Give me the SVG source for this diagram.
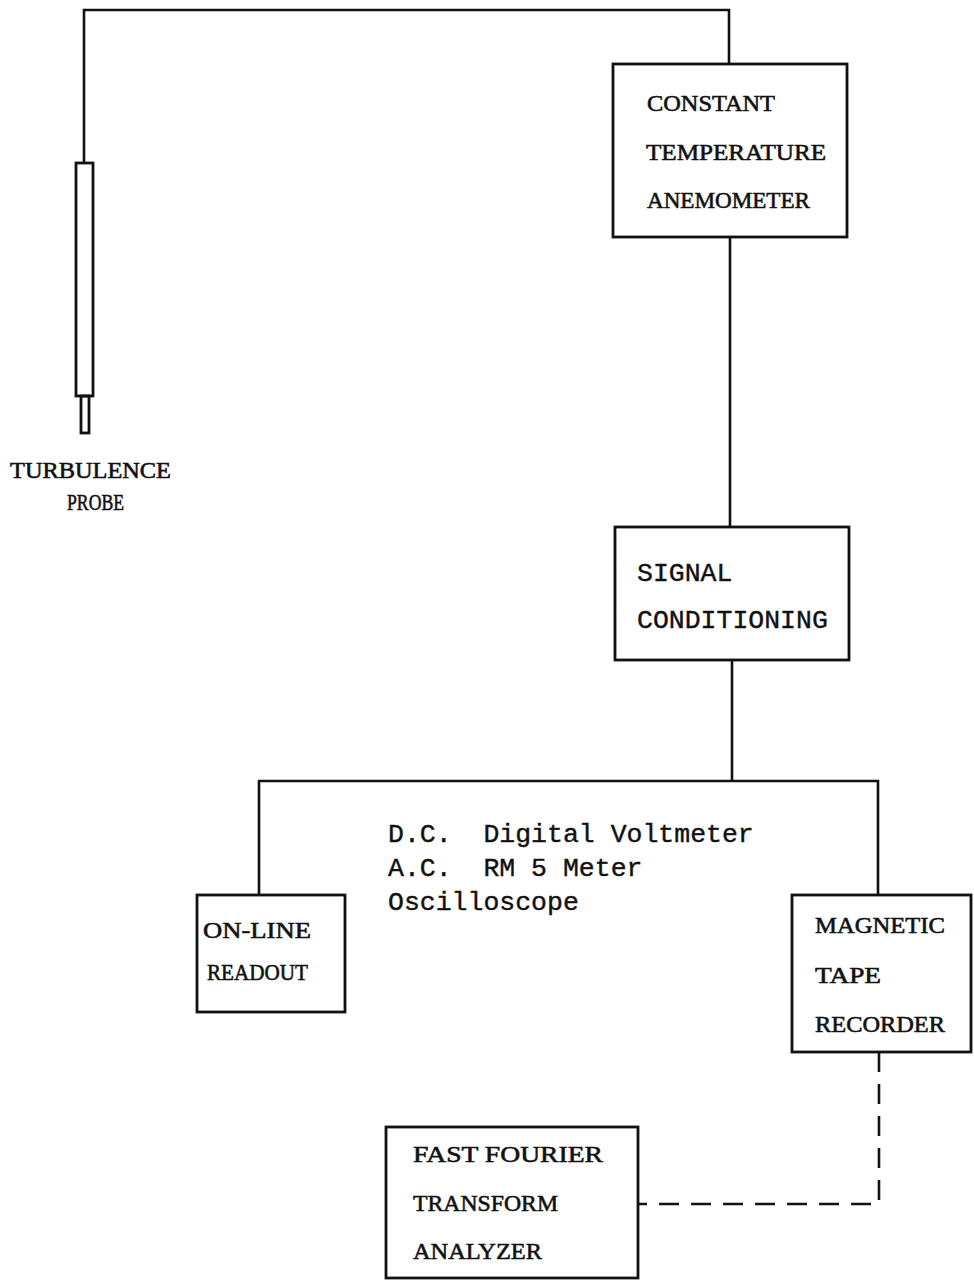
<svg xmlns="http://www.w3.org/2000/svg" width="974" height="1283" viewBox="0 0 974 1283">
<style>
.bg{fill:#fff}
.box{fill:none;stroke:#111;stroke-width:2.8}
.ln{fill:none;stroke:#111;stroke-width:2.6;stroke-linejoin:miter}
.dash{fill:none;stroke:#111;stroke-width:2.6;stroke-dasharray:20 12}
.sf{font-family:"Liberation Serif","DejaVu Serif",serif;font-size:24px;fill:#111;stroke:#111;stroke-width:0.6}
.mn{font-family:"Liberation Mono","DejaVu Sans Mono",monospace;font-size:26.5px;fill:#111;stroke:#111;stroke-width:0.4}
</style>
<rect class="bg" x="0" y="0" width="974" height="1283"/>
<g id="connectors">
<polyline class="ln" points="84,163 84,10 729,10 729,64"/>
<line class="ln" x1="730" y1="237" x2="730" y2="527"/>
<line class="ln" x1="732" y1="660" x2="732" y2="781"/>
<polyline class="ln" points="259,895 259,781 878,781 878,895"/>
<polyline class="dash" points="879,1052 879,1204 638,1204"/>
</g>
<g id="probe">
<rect class="box" x="76" y="163" width="17" height="233"/>
<rect class="box" x="81" y="396" width="8" height="37"/>
<text class="sf" x="10" y="478" textLength="161" lengthAdjust="spacingAndGlyphs">TURBULENCE</text>
<text class="sf" x="67" y="510" textLength="57" lengthAdjust="spacingAndGlyphs">PROBE</text>
</g>
<g id="cta">
<rect class="box" x="613" y="64" width="234" height="173"/>
<text class="sf" x="647" y="111" textLength="128" lengthAdjust="spacingAndGlyphs">CONSTANT</text>
<text class="sf" x="646" y="160" textLength="180" lengthAdjust="spacingAndGlyphs">TEMPERATURE</text>
<text class="sf" x="647" y="208" textLength="163" lengthAdjust="spacingAndGlyphs">ANEMOMETER</text>
</g>
<g id="signal">
<rect class="box" x="615" y="527" width="234" height="133"/>
<text class="mn" x="637" y="581">SIGNAL</text>
<text class="mn" x="637" y="628">CONDITIONING</text>
</g>
<g id="readout-note">
<text class="mn" x="388" y="842" xml:space="preserve">D.C.  Digital Voltmeter</text>
<text class="mn" x="388" y="876" xml:space="preserve">A.C.  RM 5 Meter</text>
<text class="mn" x="388" y="910">Oscilloscope</text>
</g>
<g id="online">
<rect class="box" x="197" y="895" width="148" height="117"/>
<text class="sf" x="203" y="938" textLength="108" lengthAdjust="spacingAndGlyphs">ON-LINE</text>
<text class="sf" x="207" y="980" textLength="101" lengthAdjust="spacingAndGlyphs">READOUT</text>
</g>
<g id="tape">
<rect class="box" x="792" y="895" width="179" height="157"/>
<text class="sf" x="815" y="933" textLength="130" lengthAdjust="spacingAndGlyphs">MAGNETIC</text>
<text class="sf" x="815" y="983" textLength="66" lengthAdjust="spacingAndGlyphs">TAPE</text>
<text class="sf" x="815" y="1032" textLength="130" lengthAdjust="spacingAndGlyphs">RECORDER</text>
</g>
<g id="fft">
<rect class="box" x="386" y="1127" width="252" height="151"/>
<text class="sf" x="413" y="1162" textLength="190" lengthAdjust="spacingAndGlyphs">FAST FOURIER</text>
<text class="sf" x="413" y="1211" textLength="145" lengthAdjust="spacingAndGlyphs">TRANSFORM</text>
<text class="sf" x="413" y="1259" textLength="129" lengthAdjust="spacingAndGlyphs">ANALYZER</text>
</g>
</svg>
